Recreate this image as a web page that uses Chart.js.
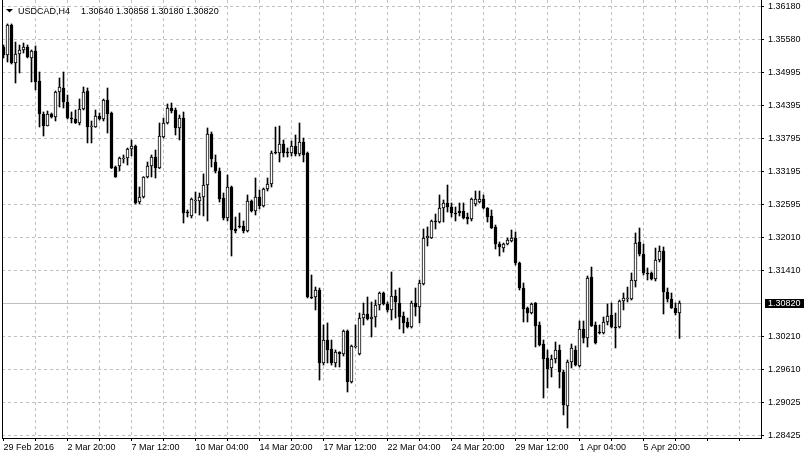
<!DOCTYPE html>
<html>
<head>
<meta charset="utf-8">
<script src="https://cdn.jsdelivr.net/npm/chart.js@4.4.1/dist/chart.umd.min.js"></script>
<style>
  html, body { margin: 0; padding: 0; background: #fff; overflow: hidden; }
  canvas { display: block; }
</style>
</head>
<body>
<canvas id="chart" width="804" height="459"></canvas>
<script>
const symbolTitle = 'USDCAD,H4';
const lastOHLC = ['1.30640', '1.30858', '1.30180', '1.30820'];
const currentPrice = 1.30820;

const timeLabels = ['29 Feb 2016', '2 Mar 20:00', '7 Mar 12:00', '10 Mar 04:00', '14 Mar 20:00',
  '17 Mar 12:00', '22 Mar 04:00', '24 Mar 20:00', '29 Mar 12:00', '1 Apr 04:00', '5 Apr 20:00'];

const priceTicks = [1.36180, 1.35580, 1.34995, 1.34395, 1.33795, 1.33195, 1.32595,
  1.32010, 1.31410, 1.30210, 1.29610, 1.29025, 1.28425];

const opens = [
  1.35448, 1.35303, 1.35846, 1.35159, 1.35321, 1.35394, 1.35448, 1.35249, 1.35376, 1.34833,
  1.34237, 1.34020, 1.34237, 1.34183, 1.34634, 1.34707, 1.34454, 1.34164, 1.34146, 1.34074,
  1.34327, 1.34653, 1.34002, 1.34002, 1.34201, 1.34146, 1.34490, 1.34255, 1.33279, 1.33297,
  1.33423, 1.33441, 1.33604, 1.33658, 1.32646, 1.32736, 1.33098, 1.33297, 1.33460, 1.33261,
  1.33821, 1.34074, 1.34345, 1.34309, 1.33984, 1.34164, 1.32465, 1.32393, 1.32664, 1.32664,
  1.32736, 1.32953, 1.33875, 1.33369, 1.33206, 1.32718, 1.32357, 1.32917, 1.32158, 1.32212,
  1.32212, 1.32122, 1.32664, 1.32483, 1.32736, 1.32574, 1.32881, 1.32971, 1.33550, 1.33532,
  1.33694, 1.33550, 1.33532, 1.33658, 1.33514, 1.33731, 1.33532, 1.30929, 1.30929, 1.31055,
  1.29736, 1.30151, 1.29989, 1.29736, 1.29934, 1.29898, 1.30314, 1.29392, 1.30025, 1.29898,
  1.30549, 1.30621, 1.30531, 1.30567, 1.30784, 1.31001, 1.30802, 1.30694, 1.30947, 1.30820,
  1.30585, 1.30477, 1.30386, 1.30820, 1.30748, 1.31164, 1.31995, 1.31995, 1.32303, 1.32284,
  1.32538, 1.32628, 1.32556, 1.32447, 1.32483, 1.32483, 1.32375, 1.32339, 1.32610, 1.32646,
  1.32700, 1.32538, 1.32393, 1.32194, 1.31887, 1.31814, 1.31887, 1.31941, 1.31995, 1.31543,
  1.31091, 1.30730, 1.30639, 1.30820, 1.30423, 1.30079, 1.29826, 1.29645, 1.29808, 1.29971,
  1.29573, 1.28958, 1.29754, 1.29971, 1.29681, 1.30350, 1.30188, 1.31290, 1.30423, 1.30296,
  1.30278, 1.30477, 1.30603, 1.30386, 1.30386, 1.30856, 1.30893, 1.30893, 1.31218, 1.31923,
  1.31706, 1.31363, 1.31363, 1.31254, 1.31598, 1.31760, 1.31019, 1.30893, 1.30730, 1.30640
];
const highs = [
  1.35484, 1.35864, 1.35864, 1.35538, 1.35484, 1.35520, 1.35484, 1.35394, 1.35466, 1.34996,
  1.34273, 1.34291, 1.34255, 1.34653, 1.34888, 1.34996, 1.34580, 1.34273, 1.34309, 1.34508,
  1.34725, 1.34707, 1.34110, 1.34309, 1.34255, 1.34508, 1.34707, 1.34273, 1.33297, 1.33460,
  1.33496, 1.33622, 1.33767, 1.33676, 1.32917, 1.33105, 1.33369, 1.33496, 1.33586, 1.34074,
  1.34164, 1.34418, 1.34436, 1.34345, 1.34219, 1.34273, 1.32501, 1.32718, 1.32827, 1.32809,
  1.33152, 1.33984, 1.33911, 1.33496, 1.33261, 1.32809, 1.33134, 1.32935, 1.32375, 1.32447,
  1.32303, 1.32773, 1.32682, 1.33080, 1.32863, 1.32899, 1.33080, 1.33568, 1.34002, 1.34020,
  1.33767, 1.33622, 1.33749, 1.33857, 1.34074, 1.33803, 1.33550, 1.31326, 1.31109, 1.31091,
  1.30423, 1.30459, 1.30151, 1.29971, 1.29940, 1.30332, 1.30332, 1.30061, 1.30423, 1.30639,
  1.30820, 1.30929, 1.30838, 1.30874, 1.31019, 1.31019, 1.30838, 1.31381, 1.31055, 1.31091,
  1.30657, 1.30549, 1.30856, 1.31091, 1.31236, 1.32158, 1.32194, 1.32321, 1.32429, 1.32773,
  1.32682, 1.32953, 1.32628, 1.32556, 1.32628, 1.32628, 1.32447, 1.32718, 1.32845, 1.32845,
  1.32773, 1.32545, 1.32501, 1.32230, 1.31923, 1.31905, 1.31995, 1.32140, 1.32104, 1.31561,
  1.31182, 1.30748, 1.30820, 1.30830, 1.30477, 1.30151, 1.29971, 1.29880, 1.30115, 1.30061,
  1.29609, 1.29790, 1.30079, 1.30043, 1.30495, 1.30495, 1.31308, 1.31471, 1.30477, 1.30423,
  1.30567, 1.30802, 1.30820, 1.30639, 1.30874, 1.31001, 1.31109, 1.31363, 1.32086, 1.32176,
  1.31887, 1.31453, 1.31381, 1.31814, 1.31851, 1.31833, 1.31091, 1.31001, 1.30820, 1.30858
];
const lows = [
  1.35249, 1.35177, 1.35141, 1.34797, 1.34978, 1.35339, 1.35249, 1.34815, 1.34671, 1.34002,
  1.33839, 1.34020, 1.34164, 1.34110, 1.34363, 1.34345, 1.34146, 1.34074, 1.34065, 1.34038,
  1.34309, 1.33713, 1.33713, 1.33995, 1.34128, 1.34110, 1.33893, 1.33250, 1.33090, 1.33206,
  1.33351, 1.33315, 1.33478, 1.32610, 1.32610, 1.32718, 1.33080, 1.33098, 1.33080, 1.33250,
  1.33803, 1.34056, 1.34255, 1.33857, 1.33767, 1.32266, 1.32375, 1.32357, 1.32447, 1.32411,
  1.32393, 1.32303, 1.33279, 1.33170, 1.32646, 1.32321, 1.32303, 1.31670, 1.32086, 1.32176,
  1.32086, 1.32104, 1.32465, 1.32411, 1.32519, 1.32556, 1.32845, 1.32917, 1.33514, 1.33369,
  1.33460, 1.33460, 1.33478, 1.33478, 1.33478, 1.33369, 1.30911, 1.30900, 1.30694, 1.29428,
  1.29699, 1.29736, 1.29699, 1.29663, 1.29663, 1.29862, 1.29211, 1.29374, 1.30007, 1.29880,
  1.30423, 1.30513, 1.30206, 1.30386, 1.30694, 1.30784, 1.30657, 1.30513, 1.30549, 1.30350,
  1.30278, 1.30368, 1.30368, 1.30585, 1.30459, 1.31146, 1.31851, 1.31985, 1.32158, 1.32266,
  1.32284, 1.32465, 1.32375, 1.32303, 1.32393, 1.32339, 1.32248, 1.32303, 1.32574, 1.32628,
  1.32519, 1.32284, 1.32166, 1.31796, 1.31670, 1.31742, 1.31869, 1.31923, 1.31507, 1.31055,
  1.30477, 1.30477, 1.30621, 1.30025, 1.30043, 1.29103, 1.29284, 1.29483, 1.29736, 1.29284,
  1.28796, 1.28561, 1.29645, 1.29681, 1.29663, 1.30097, 1.30025, 1.30395, 1.30079, 1.30260,
  1.30260, 1.30423, 1.30368, 1.30007, 1.30368, 1.30694, 1.30838, 1.30874, 1.31109, 1.31670,
  1.31326, 1.31236, 1.31236, 1.31218, 1.31561, 1.30621, 1.30838, 1.30720, 1.30603, 1.30180
];
const closes = [
  1.35303, 1.35846, 1.35159, 1.35321, 1.35394, 1.35448, 1.35267, 1.35376, 1.34815, 1.34237,
  1.34020, 1.34237, 1.34183, 1.34634, 1.34725, 1.34454, 1.34164, 1.34146, 1.34074, 1.34327,
  1.34634, 1.34002, 1.34020, 1.34201, 1.34146, 1.34490, 1.34237, 1.33261, 1.33098, 1.33441,
  1.33441, 1.33604, 1.33658, 1.32628, 1.32736, 1.33098, 1.33297, 1.33460, 1.33261, 1.33839,
  1.34074, 1.34345, 1.34291, 1.33984, 1.34164, 1.32447, 1.32447, 1.32700, 1.32682, 1.32736,
  1.32953, 1.33875, 1.33423, 1.33206, 1.32700, 1.32357, 1.32917, 1.32140, 1.32122, 1.32194,
  1.32122, 1.32664, 1.32483, 1.32736, 1.32574, 1.32881, 1.32971, 1.33532, 1.33532, 1.33694,
  1.33532, 1.33532, 1.33658, 1.33514, 1.33731, 1.33496, 1.30929, 1.30911, 1.31055, 1.29736,
  1.30151, 1.29971, 1.29736, 1.29934, 1.29898, 1.30314, 1.29392, 1.30043, 1.30043, 1.30549,
  1.30621, 1.30531, 1.30567, 1.30784, 1.31001, 1.30802, 1.30694, 1.30947, 1.30838, 1.30567,
  1.30459, 1.30386, 1.30820, 1.30748, 1.31182, 1.31995, 1.32031, 1.32303, 1.32284, 1.32538,
  1.32628, 1.32556, 1.32447, 1.32429, 1.32447, 1.32357, 1.32339, 1.32700, 1.32700, 1.32700,
  1.32538, 1.32375, 1.32176, 1.31887, 1.31833, 1.31887, 1.31959, 1.31995, 1.31543, 1.31091,
  1.30712, 1.30639, 1.30802, 1.30404, 1.30061, 1.29808, 1.29627, 1.29808, 1.29971, 1.29573,
  1.28976, 1.29754, 1.30007, 1.29699, 1.30350, 1.30188, 1.31272, 1.30404, 1.30097, 1.30278,
  1.30477, 1.30585, 1.30386, 1.30368, 1.30856, 1.30911, 1.30911, 1.31236, 1.31905, 1.31706,
  1.31363, 1.31344, 1.31254, 1.31598, 1.31760, 1.31019, 1.30893, 1.30730, 1.30639, 1.30820
];

const FONT = '"Liberation Sans", Arial, sans-serif';
Chart.defaults.font.family = FONT;
Chart.defaults.font.size = 9;
Chart.defaults.color = '#000';

const idx = opens.map((_, i) => i);
const gridSteps = [];
for (let v = 0; v <= 184; v += 8) gridSteps.push(v);

// terminal-like extras: frame, last price line and label, symbol header
const terminalDecor = {
  id: 'terminalDecor',
  beforeDatasetsDraw(chart) {
    const { ctx, chartArea: a, scales: { y } } = chart;
    const py = Math.round(y.getPixelForValue(currentPrice) - 0.5);
    ctx.save();
    ctx.fillStyle = '#c0c0c0';
    ctx.fillRect(a.left, py, a.right - a.left, 1);
    ctx.restore();
  },
  afterDraw(chart) {
    const { ctx, chartArea: a, scales: { y } } = chart;
    const py = Math.round(y.getPixelForValue(currentPrice) - 0.5);
    ctx.save();
    ctx.fillStyle = '#000';
    ctx.fillRect(a.left, a.top, 1, a.bottom - a.top + 1);

    ctx.fillRect(a.right + 4, py - 4, chart.width - a.right - 4, 9);
    ctx.fillStyle = '#fff';
    ctx.font = '9px ' + FONT;
    ctx.textBaseline = 'middle';
    ctx.fillText(currentPrice.toFixed(5), a.right + 7, py + 0.5);

    ctx.fillStyle = '#000';
    ctx.beginPath();
    ctx.moveTo(6, 9);
    ctx.lineTo(13, 9);
    ctx.lineTo(9.5, 12.5);
    ctx.closePath();
    ctx.fill();
    ctx.textBaseline = 'alphabetic';
    ctx.fillText(symbolTitle, 18, 14);
    ctx.fillText(lastOHLC.join(' '), 81, 14);
    ctx.restore();
  }
};

new Chart(document.getElementById('chart').getContext('2d'), {
  type: 'bar',
  data: {
    datasets: [
      {
        label: 'body',
        data: idx.map(i => ({ x: i, y: [opens[i], closes[i]] })),
        backgroundColor: idx.map(i => closes[i] >= opens[i] ? '#ffffff' : '#000000'),
        borderColor: '#000000',
        borderWidth: 1,
        borderSkipped: false,
        barThickness: 3,
        minBarLength: 1,
        grouped: false,
        order: 1
      },
      {
        label: 'wick',
        data: idx.map(i => ({ x: i, y: [lows[i], highs[i]] })),
        backgroundColor: '#000000',
        borderWidth: 0,
        barThickness: 1,
        grouped: false,
        order: 2
      }
    ]
  },
  options: {
    responsive: false,
    animation: false,
    devicePixelRatio: 1,
    layout: { padding: { left: 2, top: 0, right: 0, bottom: 0 } },
    plugins: { legend: { display: false }, tooltip: { enabled: false } },
    scales: {
      x: {
        type: 'linear',
        min: -0.375,
        max: 189.375,
        offset: false,
        grid: {
          offset: false,
          color: c => (c.tick && c.tick.value === 0) ? 'rgba(0,0,0,0)' : '#c0c0c0',
          tickColor: '#000',
          tickLength: 3,
          tickBorderDash: []
        },
        border: { color: '#000', dash: [3, 3] },
        ticks: {
          autoSkip: false,
          maxRotation: 0,
          minRotation: 0,
          align: 'start',
          padding: 1,
          color: '#000',
          callback: v => (v % 16 === 0 ? (timeLabels[v / 16] || '') : '')
        },
        afterBuildTicks: s => { s.ticks = gridSteps.map(v => ({ value: v })); },
        afterFit: s => { s.height = 21; s.paddingLeft = 0; s.paddingRight = 0; }
      },
      y: {
        type: 'linear',
        position: 'right',
        min: 1.283798,
        max: 1.362975,
        beginAtZero: false,
        grid: { color: '#c0c0c0', tickColor: '#000', tickLength: 3, tickBorderDash: [] },
        border: { color: '#000', dash: [3, 3] },
        ticks: { padding: 4, color: '#000', callback: v => v.toFixed(5) },
        afterBuildTicks: s => { s.ticks = priceTicks.map(v => ({ value: v })); },
        afterFit: s => { s.width = 43; s.paddingTop = 0; s.paddingBottom = 0; }
      }
    }
  },
  plugins: [terminalDecor]
});
</script>
</body>
</html>
